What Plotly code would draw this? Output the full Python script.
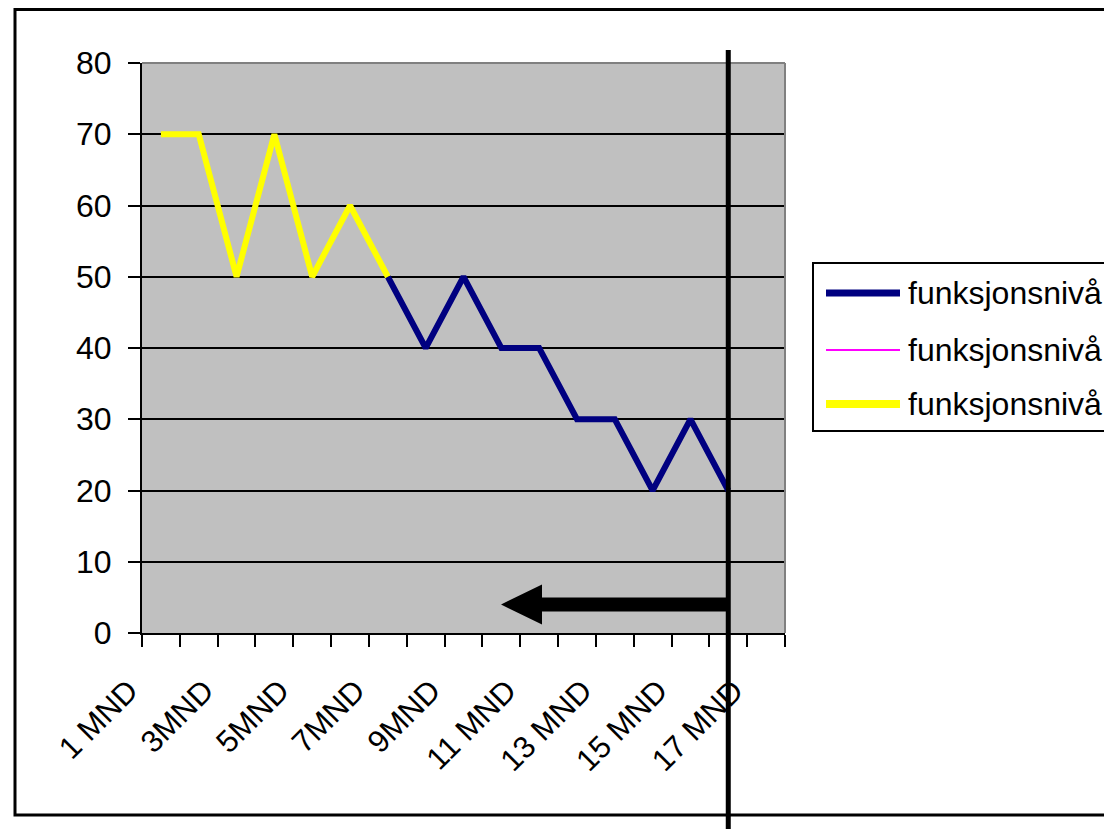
import plotly.graph_objects as go

# ---------------- data ----------------
categories = [f"{i} MND" for i in range(1, 18)]
tick_labels = ["1 MND", "", "3MND", "", "5MND", "", "7MND", "", "9MND", "",
               "11 MND", "", "13 MND", "", "15 MND", "", "17 MND"]
series_names = ["funksjonsnivå", "funksjonsnivå", "funksjonsnivå"]
navy_values = [None] * 6 + [50, 40, 50, 40, 40, 30, 30, 20, 30, 20] + [None]
magenta_values = [None] * 17
yellow_values = [70, 70, 50, 70, 50, 60, 50] + [None] * 10
marker_category = "16 MND"
arrow_value = 4

# ---------------- geometry (page pixels; body has an 8px margin) ----------------
OFF = 8
W, H = 1112 - OFF, 829 - OFF
L, R, T, B = 142, 785, 63, 633          # plot area in page pixels
FONT = "Liberation Sans, Arial, sans-serif"


def px_x(p):
    return (p - L) / (R - L)


def px_y(p):
    return (B - p) / (B - T)


n_cat = len(categories)


def cat_paper(name):
    return (categories.index(name) + 0.5) / n_cat


fig = go.Figure()
fig.add_trace(go.Scatter(x=categories, y=navy_values, mode="lines", name=series_names[0],
                         line=dict(color="#000080", width=6), connectgaps=False))
fig.add_trace(go.Scatter(x=categories, y=magenta_values, mode="lines", name=series_names[1],
                         line=dict(color="#FF00FF", width=2)))
fig.add_trace(go.Scatter(x=categories, y=yellow_values, mode="lines", name=series_names[2],
                         line=dict(color="#FFFF00", width=6)))

shapes = []
# outer chart border
shapes.append(dict(type="rect", xref="paper", yref="paper",
                   x0=px_x(15), x1=px_x(1130), y0=px_y(815), y1=px_y(9.5),
                   line=dict(color="black", width=3), layer="below"))
# top and right border of plot area (gray)
shapes.append(dict(type="line", xref="paper", yref="paper", x0=0, x1=1, y0=1, y1=1,
                   line=dict(color="#808080", width=2)))
shapes.append(dict(type="line", xref="paper", yref="paper", x0=1, x1=1, y0=0, y1=1,
                   line=dict(color="#808080", width=2)))
# vertical marker line
vx = cat_paper(marker_category)
shapes.append(dict(type="line", xref="paper", yref="paper", x0=vx, x1=vx,
                   y0=px_y(50), y1=px_y(840), line=dict(color="black", width=5)))
# arrow (shaft + head) pointing left at arrow_value
ay = arrow_value / 80
tip = px_x(501)
hb = px_x(542)
half_shaft = 7 / (B - T)
half_head = 20 / (B - T)
path = (f"M {vx},{ay + half_shaft} L {hb},{ay + half_shaft} L {hb},{ay + half_head} "
        f"L {tip},{ay} L {hb},{ay - half_head} L {hb},{ay - half_shaft} "
        f"L {vx},{ay - half_shaft} Z")
shapes.append(dict(type="path", xref="paper", yref="paper", path=path,
                   fillcolor="black", line=dict(color="black", width=0)))

# manual legend
shapes.append(dict(type="rect", xref="paper", yref="paper",
                   x0=px_x(813), x1=px_x(1130), y0=px_y(431), y1=px_y(263),
                   line=dict(color="black", width=2), fillcolor="white"))
legend_rows = [293, 350, 404]
legend_colors = ["#000080", "#FF00FF", "#FFFF00"]
legend_widths = [7, 2, 8]
annotations = []
for yy, c, w, name in zip(legend_rows, legend_colors, legend_widths, series_names):
    shapes.append(dict(type="line", xref="paper", yref="paper",
                       x0=px_x(826), x1=px_x(900), y0=px_y(yy), y1=px_y(yy),
                       line=dict(color=c, width=w)))
    annotations.append(dict(xref="paper", yref="paper", x=px_x(906), y=px_y(yy),
                            text=name, showarrow=False, xanchor="left", yanchor="middle",
                            font=dict(family=FONT, size=32, color="black")))

fig.update_layout(
    width=W, height=H,
    margin=dict(l=L - OFF, r=W - (R - OFF), t=T - OFF, b=H - (B - OFF)),
    paper_bgcolor="white",
    plot_bgcolor="#C0C0C0",
    showlegend=False,
    shapes=shapes,
    annotations=annotations,
    font=dict(family=FONT, color="black"),
)
fig.update_xaxes(
    type="category", categoryorder="array", categoryarray=categories,
    range=[-0.5, n_cat - 0.5],
    tickmode="array", tickvals=categories, ticktext=tick_labels,
    tickangle=-45, ticks="outside", ticklen=12, tickwidth=2, tickcolor="black",
    tickson="boundaries", showline=True, linecolor="black", linewidth=2,
    showgrid=False, zeroline=False,
    tickfont=dict(family=FONT, size=31, color="black"),
    ticklabelshift=-32, ticklabelstandoff=25,
)
fig.update_yaxes(
    range=[0, 80], dtick=10, tick0=0,
    ticks="outside", ticklen=12, tickwidth=2, tickcolor="black",
    showline=True, linecolor="black", linewidth=2,
    showgrid=True, gridcolor="black", gridwidth=1.5, zeroline=False,
    tickfont=dict(family=FONT, size=32, color="black"),
    ticklabelstandoff=10,
)

fig.write_html("out.html")
